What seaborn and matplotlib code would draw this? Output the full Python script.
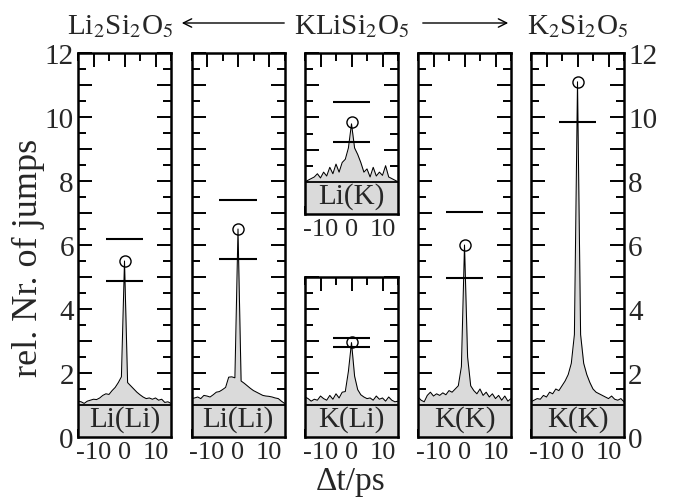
import matplotlib
matplotlib.use("Agg")
import matplotlib.pyplot as plt
import numpy as np
import pandas as pd
import seaborn as sns
from matplotlib.ticker import MultipleLocator, FuncFormatter

# ---------------- data ----------------
dt = list(range(-15, 16))

# Li2Si2O5 : Li(Li)
li_li_li2 = [1.12, 1.10, 1.05, 1.12, 1.15, 1.18, 1.17, 1.22, 1.30, 1.35, 1.33, 1.45, 1.55, 1.70, 1.88,
             5.50,
             1.70, 1.60, 1.50, 1.40, 1.32, 1.25, 1.20, 1.22, 1.18, 1.22, 1.15, 1.18, 1.08, 1.10, 1.05]
# KLiSi2O5 : Li(Li)
li_li_kli = [1.20, 1.22, 1.25, 1.20, 1.30, 1.28, 1.25, 1.32, 1.40, 1.42, 1.48, 1.55, 1.87, 1.88, 1.85,
             6.50,
             1.75, 1.68, 1.60, 1.52, 1.45, 1.40, 1.35, 1.30, 1.28, 1.27, 1.25, 1.22, 1.20, 1.12, 1.05]
# KLiSi2O5 : Li(K)  (drawn with offset, axis 7..12)
li_k_kli = [8.00, 8.05, 8.10, 8.15, 8.25, 8.12, 8.30, 8.18, 8.45, 8.25, 8.55, 8.30, 8.60, 8.70, 9.05,
            9.80,
            9.05, 8.85, 8.60, 8.30, 8.40, 8.15, 8.45, 8.18, 8.30, 8.20, 8.50, 8.15, 8.10, 8.05, 8.00]
# KLiSi2O5 : K(Li)
k_li_kli = [1.25, 1.20, 1.12, 1.18, 1.15, 1.28, 1.20, 1.15, 1.30, 1.18, 1.35, 1.22, 1.40, 1.42, 2.05,
            2.95,
            1.90, 1.48, 1.32, 1.25, 1.20, 1.22, 1.15, 1.28, 1.18, 1.22, 1.12, 1.25, 1.15, 1.10, 1.12]
# KLiSi2O5 : K(K)
k_k_kli = [1.25, 1.15, 1.10, 1.30, 1.40, 1.28, 1.35, 1.30, 1.38, 1.32, 1.45, 1.40, 1.50, 1.60, 2.20,
           6.00,
           2.50, 1.60, 1.45, 1.35, 1.50, 1.30, 1.40, 1.25, 1.35, 1.20, 1.30, 1.15, 1.28, 1.12, 1.20]
# K2Si2O5 : K(K)
k_k_k2 = [1.10, 1.15, 1.20, 1.18, 1.30, 1.25, 1.40, 1.35, 1.50, 1.45, 1.60, 1.75, 1.95, 2.30, 3.20,
          11.10,
          3.20, 2.30, 1.95, 1.70, 1.50, 1.40, 1.35, 1.30, 1.25, 1.20, 1.28, 1.18, 1.15, 1.20, 1.10]

panel_labels = ["Li(Li)", "Li(Li)", "Li(K)", "K(Li)", "K(K)", "K(K)"]
circle_vals = [5.51, 6.50, 9.85, 2.98, 6.00, 11.08]
bar_vals = [[6.18, 4.88], [7.42, 5.56], [10.48, 9.23], [3.10, 2.82], [7.04, 4.98], [9.83]]
base_vals = [1.0, 1.0, 8.0, 1.0, 1.0, 1.0]
ylims = [(0, 12), (0, 12), (7, 12), (0, 5), (0, 12), (0, 12)]
curves = [li_li_li2, li_li_kli, li_k_kli, k_li_kli, k_k_kli, k_k_k2]

titles = [r"Li$_2$Si$_2$O$_5$", r"KLiSi$_2$O$_5$", r"K$_2$Si$_2$O$_5$"]

# ---------------- style ----------------
sns.set_theme(style="ticks")
plt.rcParams["font.family"] = ["Liberation Serif", "DejaVu Serif"]
plt.rcParams["mathtext.fontset"] = "stix"
plt.rcParams["mathtext.default"] = "rm"
plt.rcParams["axes.unicode_minus"] = False

W, H = 673, 502
fig = plt.figure(figsize=(W / 100, H / 100), dpi=100)


def add_ax(l, t, r, b):
    return fig.add_axes([l / W, 1 - b / H, (r - l) / W, (b - t) / H])


lefts = [78, 191.5, 305, 418, 531]
pw = 93
boxes = [
    (lefts[0], 54, lefts[0] + pw, 438),
    (lefts[1], 54, lefts[1] + pw, 438),
    (lefts[2], 54, lefts[2] + pw, 215),
    (lefts[2], 278, lefts[2] + pw, 438),
    (lefts[3], 54, lefts[3] + pw, 438),
    (lefts[4], 54, lefts[4] + pw, 438),
]

fill_col = "#dadada"
for i, (box, vals) in enumerate(zip(boxes, curves)):
    ax = add_ax(*box)
    y0, y1 = ylims[i]
    df = pd.DataFrame({"dt": dt, "n": vals})
    ax.fill_between(df["dt"], df["n"], y0, color=fill_col, lw=0, zorder=1)
    sns.lineplot(data=df, x="dt", y="n", ax=ax, color="black", lw=0.75, zorder=3)
    ax.axhline(base_vals[i], color="black", lw=1.3, zorder=3)
    for v in bar_vals[i]:
        ax.hlines(v, -6, 6, color="black", lw=1.5, zorder=4)
    ax.plot([0], [circle_vals[i]], "o", mfc="none", mec="black", ms=8, mew=1.0, zorder=5)
    ax.text(0, y0 + 0.58, panel_labels[i], ha="center", va="center", fontsize=21, zorder=6)

    ax.set_xlim(-15, 15)
    ax.set_ylim(y0, y1)
    ax.set_xlabel("")
    ax.set_ylabel("")
    ax.xaxis.set_major_locator(MultipleLocator(10))
    ax.xaxis.set_minor_locator(MultipleLocator(5))
    ax.yaxis.set_major_locator(MultipleLocator(1))
    ax.yaxis.set_minor_locator(MultipleLocator(0.5))
    ax.yaxis.set_major_formatter(
        FuncFormatter(lambda v, p: f"{int(round(v))}" if int(round(v)) % 2 == 0 else ""))
    ax.tick_params(which="both", direction="in", top=True, right=True, bottom=True, left=True,
                   labelleft=(i == 0), labelright=(i == 5), pad=3, color="black")
    ax.tick_params(axis="y", labelsize=21)
    ax.tick_params(axis="x", labelsize=19)
    ax.tick_params(which="major", length=10, width=1.4)
    ax.tick_params(which="minor", length=6, width=1.4)
    for s in ax.spines.values():
        s.set_linewidth(1.8)
        s.set_color("black")
    ax.set_facecolor("white")

# axis labels
fig.text(28 / W, 1 - 258 / H, "rel. Nr. of jumps", rotation=90, ha="center", va="center", fontsize=26)
fig.text(351 / W, 1 - 482 / H, "Δt/ps", ha="center", va="center", fontsize=24)

# top titles and arrows
ty = 1 - 34 / H
fig.text(120 / W, ty, titles[0], ha="center", va="baseline", fontsize=21)
fig.text(352 / W, ty, titles[1], ha="center", va="baseline", fontsize=21)
fig.text(578 / W, ty, titles[2], ha="center", va="baseline", fontsize=21)
ay = 1 - 24 / H
fig.add_artist(matplotlib.patches.FancyArrowPatch((287 / W, ay), (179 / W, ay), transform=fig.transFigure,
                                                  arrowstyle="->,head_length=6,head_width=3", lw=1.0,
                                                  color="black"))
fig.add_artist(matplotlib.patches.FancyArrowPatch((420 / W, ay), (511 / W, ay), transform=fig.transFigure,
                                                  arrowstyle="->,head_length=6,head_width=3", lw=1.0,
                                                  color="black"))

fig.savefig("out.png", dpi=100)
